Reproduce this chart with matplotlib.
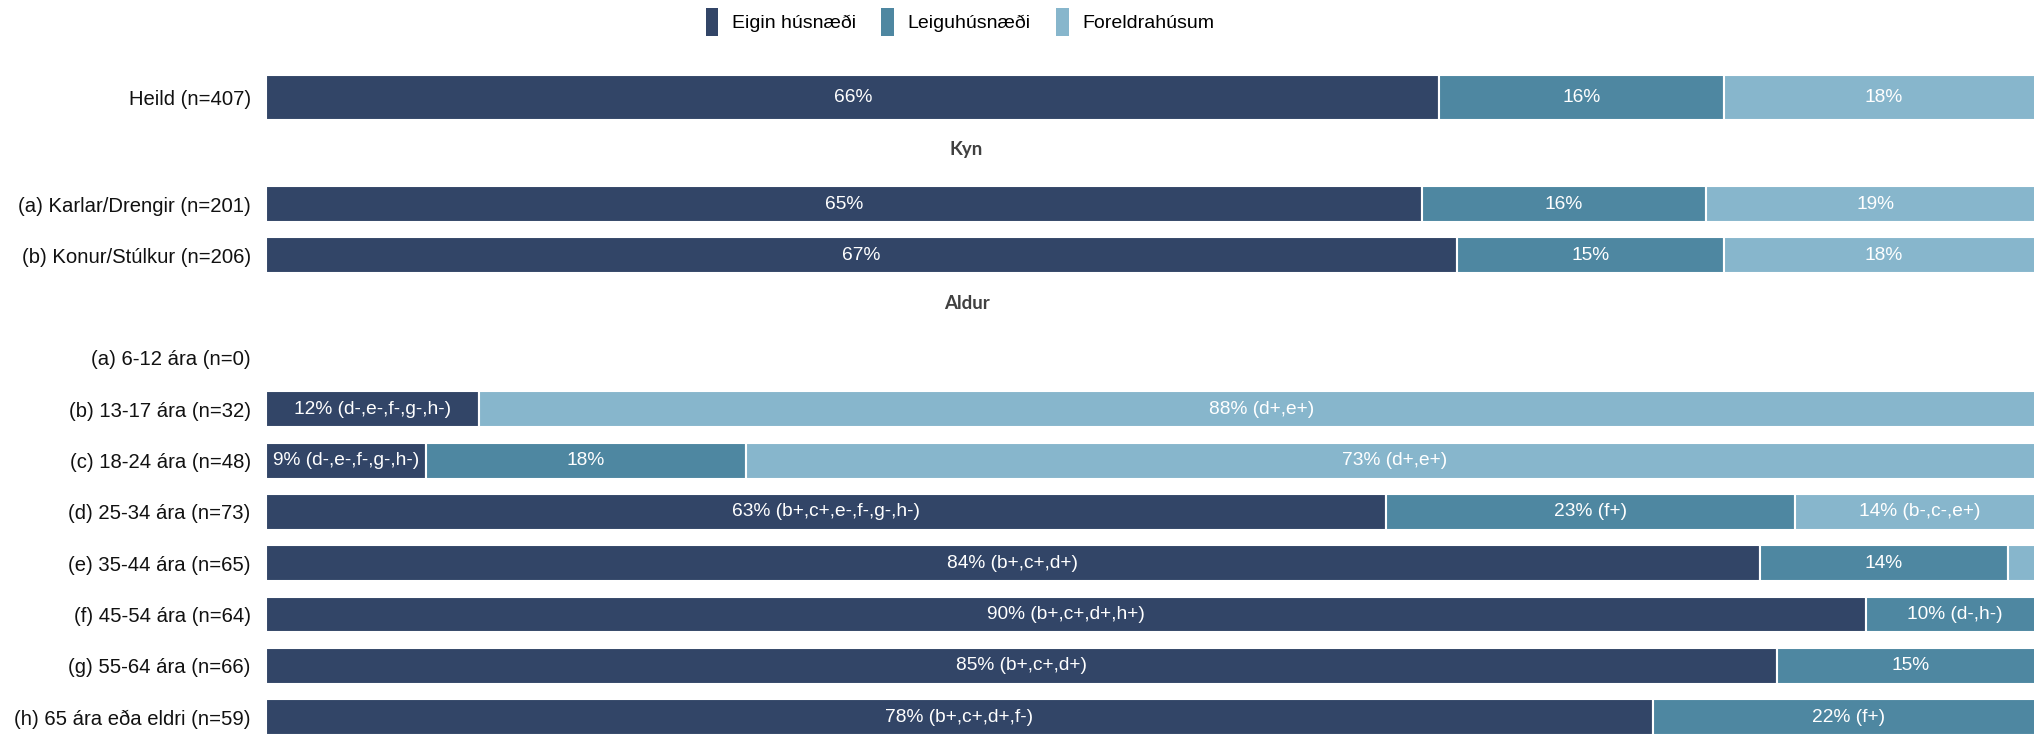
import numpy as np
import matplotlib.pyplot as plt
from matplotlib.patches import Patch

plt.rcParams['font.family'] = ['Liberation Sans', 'DejaVu Sans']

# Raðir (fyrirsagnir hópa eru None)
rows = ["Heild (n=407)", None,
        "(a) Karlar/Drengir (n=201)", "(b) Konur/Stúlkur (n=206)", None,
        "(a) 6-12 ára (n=0)", "(b) 13-17 ára (n=32)", "(c) 18-24 ára (n=48)",
        "(d) 25-34 ára (n=73)", "(e) 35-44 ára (n=65)", "(f) 45-54 ára (n=64)",
        "(g) 55-64 ára (n=66)", "(h) 65 ára eða eldri (n=59)"]
headers = {1: "Kyn", 4: "Aldur"}

series = ["Eigin húsnæði", "Leiguhúsnæði", "Foreldrahúsum"]
eigin = [66, None, 65, 67, None, 0, 12, 9, 63, 84, 90, 85, 78]
leiga = [16, None, 16, 15, None, 0, 0, 18, 23, 14, 10, 15, 22]
foreldra = [18, None, 19, 18, None, 0, 88, 73, 14, 2, 0, 0, 0]

eigin_sig = ["", "", "", "", "", "", " (d-,e-,f-,g-,h-)", " (d-,e-,f-,g-,h-)",
             " (b+,c+,e-,f-,g-,h-)", " (b+,c+,d+)", " (b+,c+,d+,h+)", " (b+,c+,d+)",
             " (b+,c+,d+,f-)"]
leiga_sig = ["", "", "", "", "", "", "", "", " (f+)", "", " (d-,h-)", "", " (f+)"]
foreldra_sig = ["", "", "", "", "", "", " (d+,e+)", " (d+,e+)", " (b-,c-,e+)", "", "", "", ""]

colors = ["#324567", "#4E87A1", "#87B6CC"]

fig = plt.figure(figsize=(20.34, 7.34), dpi=100)
ax = fig.add_axes([266 / 2034, 0, 1778 / 2034, 1])

# heildarsúlan er breiðari og aðeins ofar
y = np.arange(len(rows), dtype=float)
y[0] = -0.076

vals = [eigin, leiga, foreldra]
sigs = [eigin_sig, leiga_sig, foreldra_sig]

for i in range(len(rows)):
    if rows[i] is None:
        continue
    h = 0.88 if i == 0 else 0.70
    left = 0
    for s in range(3):
        v = vals[s][i]
        if v > 0:
            ax.barh(y[i], v, left=left, height=h, color=colors[s],
                    edgecolor="white", linewidth=1.5)
            if v >= 3:
                ax.text(left + v / 2, y[i], f"{v}%{sigs[s][i]}", color="white",
                        ha="center", va="center", fontsize=13.8)
        left += v

for k, txt in headers.items():
    ax.text(39.4, k - 0.07, txt, ha="center", va="center", fontsize=13.5,
            fontweight="bold", color="#404040", family=["Lato", "DejaVu Sans"])

ax.set_yticks([y[i] for i in range(len(rows)) if rows[i] is not None])
ax.set_yticklabels([r for r in rows if r is not None], fontsize=14.6, color="#111111")
ax.tick_params(axis="y", length=0, pad=11)
ax.set_xticks([])
ax.set_xlim(0, 100)
ax.set_ylim(12.33, -1.977)
for sp in ax.spines.values():
    sp.set_visible(False)

handles = [Patch(facecolor=c, label=l) for c, l in zip(colors, series)]
fig.legend(handles=handles, loc="center", bbox_to_anchor=(960 / 2034, 1 - 22 / 734),
           ncol=3, frameon=False, fontsize=14, handlelength=0.65, handleheight=1.9,
           handletextpad=0.7, columnspacing=1.3)

fig.savefig("out.png", dpi=100)
